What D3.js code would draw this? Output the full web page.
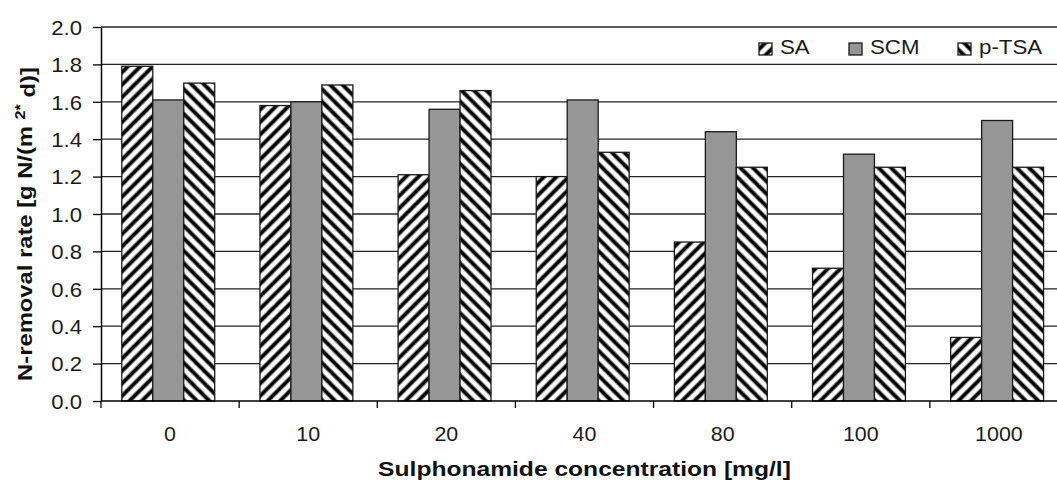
<!DOCTYPE html>
<html>
<head>
<meta charset="utf-8">
<script src="https://cdn.jsdelivr.net/npm/d3@7/dist/d3.min.js"></script>
<style>
  html, body { margin: 0; padding: 0; background: #fff; }
  svg { display: block; font-family: "Liberation Sans", Arial, sans-serif; }
</style>
</head>
<body>
<svg id="chart" width="1057" height="484"></svg>
<script>
// Concentration groups along the x axis
const categories = ["0", "10", "20", "40", "80", "100", "1000"];
// N-removal rate per sulphonamide, g N/(m²·d)
const saValues   = [1.79, 1.58, 1.21, 1.20, 0.85, 0.71, 0.34];
const scmValues  = [1.61, 1.60, 1.56, 1.61, 1.44, 1.32, 1.50];
const ptsaValues = [1.70, 1.69, 1.66, 1.33, 1.25, 1.25, 1.25];
const seriesNames = ["SA", "SCM", "p-TSA"];
const yTickValues = [0.0, 0.2, 0.4, 0.6, 0.8, 1.0, 1.2, 1.4, 1.6, 1.8, 2.0];

const seriesValues = [saValues, scmValues, ptsaValues];
const rows = categories.map((c, i) => ({
  cat: c,
  vals: seriesNames.map((s, j) => ({ key: s, value: seriesValues[j][i] }))
}));

const svg = d3.select("#chart");
const plot = { left: 101, right: 1068, top: 27, bottom: 401 };

const x0 = d3.scaleBand().domain(categories).range([plot.left, plot.right]).paddingInner(0).paddingOuter(0);
const x1 = d3.scaleBand().domain(seriesNames).range([0, x0.bandwidth()])
  .paddingInner(0).paddingOuter(0.73).align(0.46);
const y = d3.scaleLinear().domain([0, 2.0]).range([plot.bottom, plot.top]);

// Widen text horizontally by factor k (wide typeface look)
function widen(sel, k) {
  sel.each(function () {
    const len = this.getComputedTextLength();
    d3.select(this).attr("textLength", len * k).attr("lengthAdjust", "spacingAndGlyphs");
  });
}

// Hatch patterns
const defs = svg.append("defs");
function hatch(id, angle) {
  const p = defs.append("pattern").attr("id", id)
    .attr("patternUnits", "userSpaceOnUse")
    .attr("width", 8.8).attr("height", 8.8)
    .attr("patternTransform", `rotate(${angle})`);
  p.append("rect").attr("width", 8.8).attr("height", 8.8).attr("fill", "#fff");
  p.append("line").attr("x1", 4.4).attr("x2", 4.4).attr("y1", -1).attr("y2", 10)
    .attr("stroke", "#000").attr("stroke-width", 3.9);
}
hatch("hatchSA", 45);
hatch("hatchPTSA", -45);

const fillFor = { "SA": "url(#hatchSA)", "SCM": "#969696", "p-TSA": "url(#hatchPTSA)" };

// Gridlines
svg.append("g")
  .selectAll("line")
  .data(yTickValues.filter(v => v > 0))
  .join("line")
  .attr("x1", plot.left).attr("x2", plot.right)
  .attr("y1", d => y(d)).attr("y2", d => y(d))
  .attr("stroke", "#222").attr("stroke-width", 1.3);

// Bars
svg.append("g")
  .selectAll("g")
  .data(rows)
  .join("g")
  .attr("transform", d => `translate(${x0(d.cat)},0)`)
  .selectAll("rect")
  .data(d => d.vals)
  .join("rect")
  .attr("x", d => x1(d.key))
  .attr("width", x1.bandwidth())
  .attr("y", d => y(d.value))
  .attr("height", d => y(0) - y(d.value))
  .attr("fill", d => fillFor[d.key])
  .attr("stroke", "#1a1a1a")
  .attr("stroke-width", 1.3);

// Y axis
const yAxis = d3.axisLeft(y).tickValues(yTickValues).tickFormat(d3.format(".1f"))
  .tickSizeInner(8).tickSizeOuter(0).tickPadding(11);
const gy = svg.append("g").attr("transform", `translate(${plot.left},0)`).call(yAxis);
gy.select(".domain").attr("stroke", "#000").attr("stroke-width", 1.5);
gy.selectAll(".tick line").attr("stroke", "#000").attr("stroke-width", 1.3);
gy.selectAll(".tick text").attr("fill", "#1a1a1a").style("font-size", "20.5px")
  .attr("font-family", "Liberation Sans, Arial, sans-serif")
  .attr("dy", "0.36em")
  .call(widen, 1.08);

// X axis: ticks sit at group boundaries
const gx = svg.append("g").attr("transform", `translate(0,${plot.bottom})`);
gx.append("line").attr("x1", plot.left).attr("x2", plot.right)
  .attr("stroke", "#000").attr("stroke-width", 1.5);
gx.selectAll("line.tk")
  .data(categories)
  .join("line").attr("class", "tk")
  .attr("x1", d => x0(d)).attr("x2", d => x0(d))
  .attr("y1", 0).attr("y2", 7)
  .attr("stroke", "#000").attr("stroke-width", 1.3);
gx.selectAll("text")
  .data(categories)
  .join("text")
  .attr("x", d => x0(d) + x0.bandwidth() / 2)
  .attr("y", 39.5)
  .attr("text-anchor", "middle")
  .attr("fill", "#1a1a1a")
  .style("font-size", "20px")
  .text(d => d)
  .call(widen, 1.07);

// Axis titles
svg.append("text")
  .attr("x", (plot.left + plot.right) / 2)
  .attr("y", 476)
  .attr("text-anchor", "middle")
  .attr("font-weight", "bold")
  .style("font-size", "20.5px")
  .attr("fill", "#111")
  .text("Sulphonamide concentration [mg/l]")
  .call(widen, 1.2);

const yt = svg.append("text")
  .attr("transform", "translate(32,224) rotate(-90) scale(1.16,1)")
  .attr("text-anchor", "middle")
  .attr("font-weight", "bold")
  .style("font-size", "20.5px")
  .attr("fill", "#111");
yt.append("tspan").text("N-removal rate [g N/(m ");
yt.append("tspan").attr("dy", "-0.5em").style("font-size", "14px").text("2*");
yt.append("tspan").attr("dy", "0.5em").text(" d)]");

// Legend
const legendX = [759, 849, 958];
const lg = svg.append("g").selectAll("g")
  .data(seriesNames)
  .join("g")
  .attr("transform", (d, i) => `translate(${legendX[i]},43)`);
lg.append("rect")
  .attr("width", 13).attr("height", 12)
  .attr("fill", d => fillFor[d])
  .attr("stroke", "#1a1a1a").attr("stroke-width", 1.3);
lg.append("text")
  .attr("x", 21).attr("y", 11)
  .attr("fill", "#1a1a1a")
  .style("font-size", "21px")
  .text(d => d)
  .call(widen, 1.06);
</script>
</body>
</html>
